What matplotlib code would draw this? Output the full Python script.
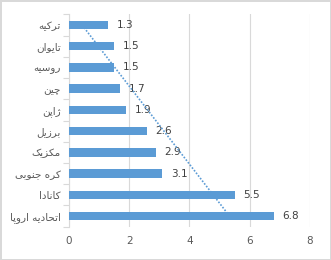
import numpy as np
import matplotlib.pyplot as plt

plt.rcParams.update({
    'font.family': ['DejaVu Sans'],
    'font.size': 7.5,
})

# top to bottom, as shown
countries = ['ترکیه', 'تایوان', 'روسیه', 'چین', 'ژاپن',
             'برزیل', 'مکزیک', 'کره جنوبی', 'کانادا', 'اتحادیه اروپا']
values = [1.3, 1.5, 1.5, 1.7, 1.9, 2.6, 2.9, 3.1, 5.5, 6.8]
xticks = [0, 2, 4, 6, 8]

# minimal arabic/persian shaping: (isolated, final, initial, medial)
FORMS = {
    'ا': ('\uFE8D', '\uFE8E', None, None),
    'ب': ('\uFE8F', '\uFE90', '\uFE91', '\uFE92'),
    'پ': ('\uFB56', '\uFB57', '\uFB58', '\uFB59'),
    'ت': ('\uFE95', '\uFE96', '\uFE97', '\uFE98'),
    'ج': ('\uFE9D', '\uFE9E', '\uFE9F', '\uFEA0'),
    'چ': ('\uFB7A', '\uFB7B', '\uFB7C', '\uFB7D'),
    'ح': ('\uFEA1', '\uFEA2', '\uFEA3', '\uFEA4'),
    'د': ('\uFEA9', '\uFEAA', None, None),
    'ر': ('\uFEAD', '\uFEAE', None, None),
    'ز': ('\uFEAF', '\uFEB0', None, None),
    'ژ': ('\uFB8A', '\uFB8B', None, None),
    'س': ('\uFEB1', '\uFEB2', '\uFEB3', '\uFEB4'),
    'ک': ('\uFB8E', '\uFB8F', '\uFB90', '\uFB91'),
    'ل': ('\uFEDD', '\uFEDE', '\uFEDF', '\uFEE0'),
    'م': ('\uFEE1', '\uFEE2', '\uFEE3', '\uFEE4'),
    'ن': ('\uFEE5', '\uFEE6', '\uFEE7', '\uFEE8'),
    'ه': ('\uFEE9', '\uFEEA', '\uFEEB', '\uFEEC'),
    'و': ('\uFEED', '\uFEEE', None, None),
    'ی': ('\uFBFC', '\uFBFD', '\uFBFE', '\uFBFF'),
}


def shape(s):
    out = []
    for i, c in enumerate(s):
        if c not in FORMS:
            out.append(c)
            continue
        prev = s[i - 1] if i > 0 else None
        nxt = s[i + 1] if i + 1 < len(s) else None
        jp = prev in FORMS and FORMS[prev][2] is not None
        jn = nxt in FORMS and FORMS[c][2] is not None
        iso, fin, ini, med = FORMS[c]
        if jp and jn:
            out.append(med)
        elif jp:
            out.append(fin)
        elif jn:
            out.append(ini)
        else:
            out.append(iso)
    return ''.join(out)[::-1]


blue = '#5B9BD5'
grey_txt = '#595959'
grid_c = '#D9D9D9'

fig = plt.figure(figsize=(3.31, 2.60), dpi=100)
fig.patch.set_edgecolor(grid_c)
fig.patch.set_linewidth(1.0)
ax = fig.add_axes([0.2085, 0.128, 0.728, 0.817])

pos = np.arange(len(countries))
ax.barh(pos, values, height=0.4, color=blue, zorder=3)
for p, v in zip(pos, values):
    ax.annotate(f'{v}', (v, p), xytext=(6, 0), textcoords='offset points',
                va='center', ha='left', color='#404040', fontsize=7.5)

# linear trendline over category order (bottom category = 1)
cat = np.arange(len(values), 0, -1)
k, b = np.polyfit(cat, values, 1)
ax.plot([k * cat[0] + b, k * cat[-1] + b], [pos[0], pos[-1]],
        color=blue, lw=1.2, linestyle=(0, (1, 1)), zorder=4)

ax.set_xlim(0, 8)
ax.set_ylim(len(countries) - 0.5, -0.5)
ax.set_xticks(xticks)
ax.set_yticks(pos)
ax.set_yticklabels([shape(c) for c in countries])
ax.set_yticks(np.arange(-0.5, len(countries)), minor=True)

for s in ['top', 'right', 'bottom']:
    ax.spines[s].set_visible(False)
ax.spines['left'].set_color(grid_c)
ax.spines['left'].set_linewidth(0.8)
ax.grid(axis='x', color=grid_c, lw=0.8, zorder=0)
ax.tick_params(axis='x', length=0, pad=7, colors=grey_txt)
ax.tick_params(axis='y', which='major', length=0, pad=6, colors=grey_txt)
ax.tick_params(axis='y', which='minor', length=4, color=grid_c, width=0.8)

fig.savefig('out.png', dpi=100)
